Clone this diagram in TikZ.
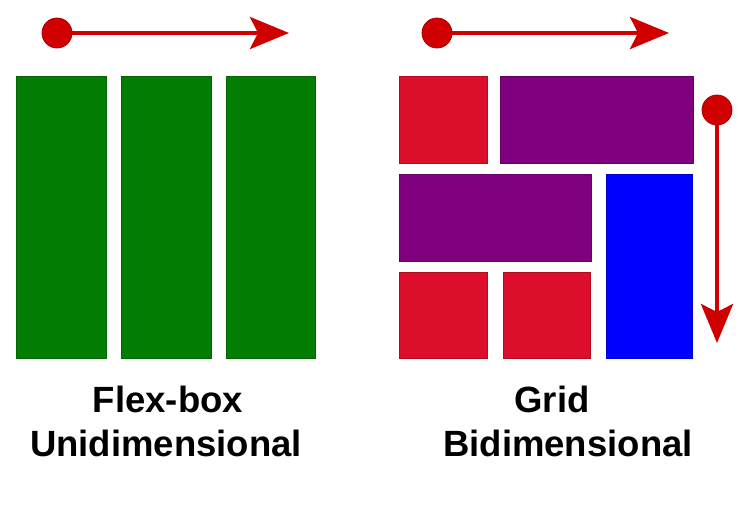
\documentclass[tikz,border=0pt]{standalone}
\usepackage{fontspec}
\setmainfont{Liberation Sans}
\usetikzlibrary{arrows.meta}
\definecolor{flexgreen}{RGB}{3,125,3}
\definecolor{cellred}{RGB}{221,14,43}
\definecolor{cellpurple}{RGB}{128,0,128}
\definecolor{cellblue}{RGB}{0,0,255}
\definecolor{arrowred}{RGB}{208,0,0}
\tikzset{
  cell/.style={fill=#1,draw=#1!80!black,line width=0.6pt},
  dot/.style={circle,fill=arrowred,draw=arrowred!80!black,line width=0.8pt,minimum size=30pt,inner sep=0pt},
  flow/.style={arrowred,line width=4pt,-{Stealth[length=39pt,width=32pt,inset=8pt]}},
  caption/.style={anchor=base,inner sep=0pt,font=\fontsize{36.5}{44}\selectfont\bfseries}
}
\begin{document}
\begin{tikzpicture}[x=1pt,y=-1pt]
  \useasboundingbox (0,0) rectangle (751,509);
  % flex-box: one row of columns
  \foreach \x/\w in {16/106,121/211,226/315}
    \draw[cell=flexgreen] (\x,76) rectangle (\w,358);
  \node[dot] (flexdot) at (57,33) {};
  \coordinate (flexend) at (289,33);
  \draw[flow] (flexdot) -- (flexend);
  % grid: rows and columns
  \draw[cell=cellred] (399,76) rectangle (487,163);
  \draw[cell=cellpurple] (500,76) rectangle (693,163);
  \draw[cell=cellpurple] (399,174) rectangle (591,261);
  \draw[cell=cellblue] (606,174) rectangle (692,358);
  \draw[cell=cellred] (399,272) rectangle (487,358);
  \draw[cell=cellred] (503,272) rectangle (590,358);
  \node[dot] (rowdot) at (437,33) {};
  \coordinate (rowend) at (669,33);
  \draw[flow] (rowdot) -- (rowend);
  \node[dot] (coldot) at (717,110) {};
  \coordinate (colend) at (717,343);
  \draw[flow] (coldot) -- (colend);
  % labels
  \node[caption] (flextitle) at (168,412) {Flex-box};
  \node[caption] (flexsub) at (166,456) {Unidimensional};
  \node[caption] (gridtitle) at (552,412) {Grid};
  \node[caption] (gridsub) at (568,456) {Bidimensional};
\end{tikzpicture}
\end{document}
